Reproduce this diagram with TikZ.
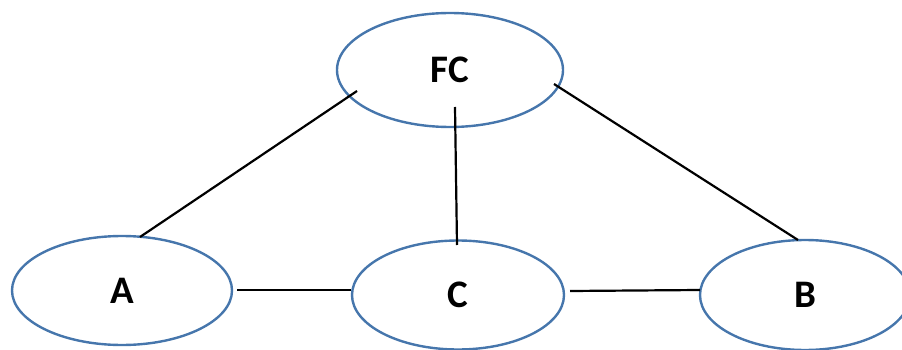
\documentclass[tikz,border=0pt]{standalone}
\usepackage{fontspec}
\setmainfont{Carlito}
\usetikzlibrary{shapes.geometric}
\definecolor{edgeblue}{HTML}{4676AC}
\tikzset{
  oval/.style={ellipse, draw=edgeblue, line width=2.4pt, inner sep=0pt, font=\fontsize{39}{42}\selectfont\bfseries},
  link/.style={draw=black, line width=2.2pt}
}
\begin{document}
\begin{tikzpicture}[x=1pt,y=-1pt]
\useasboundingbox (0,0) rectangle (902,350);
\node[oval, minimum width=226pt, minimum height=114pt] (FC) at (450,70) {FC};
\node[oval, minimum width=220pt, minimum height=109pt] (A) at (122,290.5) {A};
\node[oval, minimum width=212pt, minimum height=109pt] (C) at (458,295) {C};
\node[oval, minimum width=210pt, minimum height=110pt] (B) at (805,295) {B};
\coordinate (fca) at (357,91);
\coordinate (fcc) at (455,107);
\coordinate (fcb) at (554,84);
\coordinate (atop) at (140,237);
\coordinate (ctop) at (457,245);
\coordinate (btop) at (798,240);
\coordinate (aright) at (237,290);
\coordinate (cleft) at (351,290);
\coordinate (cright) at (570,291);
\coordinate (bleft) at (700,290);
\draw[link] (fca) -- (atop);
\draw[link] (fcc) -- (ctop);
\draw[link] (fcb) -- (btop);
\draw[link] (aright) -- (cleft);
\draw[link] (cright) -- (bleft);
\end{tikzpicture}
\end{document}
